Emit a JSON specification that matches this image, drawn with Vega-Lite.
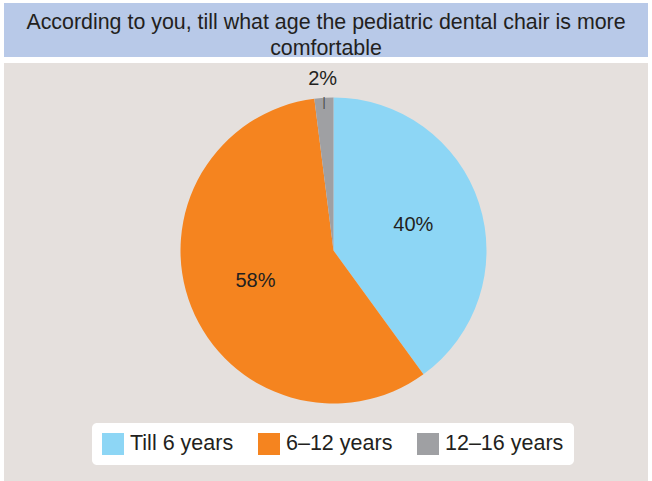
{
  "$schema": "https://vega.github.io/schema/vega-lite/v6.json",
  "background": "white",
  "padding": {"left": 4, "top": 3, "right": 4, "bottom": 0},
  "spacing": 3,
  "config": {
    "view": {"stroke": null},
    "font": "Liberation Sans"
  },
  "vconcat": [
    {
      "width": 644,
      "height": 54,
      "view": {"fill": "#b8c9e8", "stroke": null},
      "data": {"values": [{"title": "According to you, till what age the pediatric dental chair is more\ncomfortable"}]},
      "mark": {"type": "text", "fontSize": 21.4, "lineHeight": 26, "lineBreak": "\n", "color": "#231f20", "baseline": "middle", "align": "center", "font": "Liberation Sans", "yOffset": -7},
      "encoding": {"text": {"field": "title"}}
    },
    {
      "width": 644,
      "height": 418,
      "view": {"fill": "#e5e0dd", "stroke": null},
      "data": {"values": [
        {"category": "Till 6 years", "value": 40, "label": "40%", "idx": 1},
        {"category": "6–12 years", "value": 58, "label": "58%", "idx": 2},
        {"category": "12–16 years", "value": 2, "label": "2%", "idx": 3}
      ]},
      "encoding": {
        "theta": {"field": "value", "type": "quantitative", "stack": true},
        "order": {"field": "idx", "type": "quantitative"}
      },
      "layer": [
        {
          "mark": {"type": "arc", "outerRadius": 153, "xOffset": 7.5, "yOffset": -21.5, "stroke": null},
          "encoding": {
            "color": {
              "field": "category", "type": "nominal",
              "scale": {"domain": ["Till 6 years", "6–12 years", "12–16 years"], "range": ["#8dd6f5", "#f5841f", "#9fa0a3"]},
              "legend": {
                "title": null, "orient": "none", "direction": "horizontal",
                "legendX": 88, "legendY": 420,
                "fillColor": "white", "cornerRadius": 5, "padding": 10,
                "symbolType": "square", "symbolSize": 484, "symbolStrokeWidth": 0, "symbolOpacity": 1,
                "labelFontSize": 21.5, "labelColor": "#231f20", "labelFont": "Liberation Sans",
                "labelOffset": 6, "columnPadding": 24, "labelLimit": 300
              }
            }
          }
        },
        {
          "mark": {"type": "text", "radius": 84, "xOffset": 7.5, "yOffset": -21.5, "fontSize": 20, "color": "#231f20", "font": "Liberation Sans"},
          "encoding": {
            "text": {"condition": {"test": "datum.value > 5", "field": "label"}, "value": ""}
          }
        },
        {
          "mark": {"type": "text", "radius": 172, "xOffset": 7.5, "yOffset": -21.5, "fontSize": 20, "color": "#231f20", "font": "Liberation Sans"},
          "encoding": {
            "text": {"condition": {"test": "datum.value <= 5", "field": "label"}, "value": ""}
          }
        },
        {
          "mark": {"type": "text", "radius": 149, "xOffset": 7.5, "yOffset": -21.5, "fontSize": 12, "color": "#444444", "font": "Liberation Sans"},
          "encoding": {
            "text": {"condition": {"test": "datum.value <= 5", "value": "|"}, "value": ""}
          }
        }
      ]
    }
  ]
}
